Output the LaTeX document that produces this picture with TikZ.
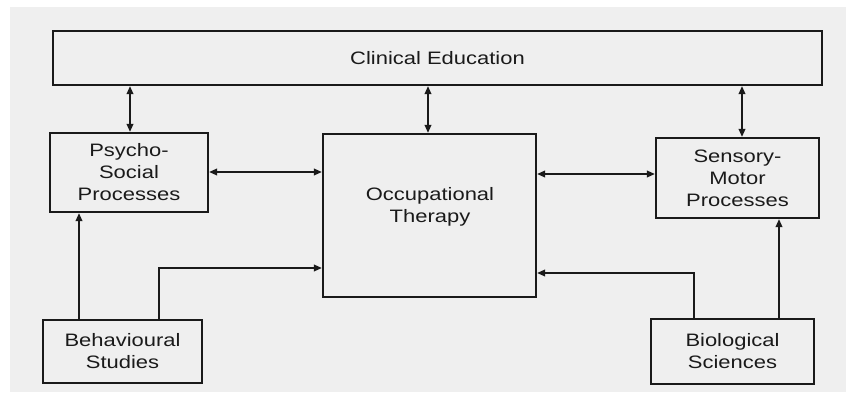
\documentclass[tikz,border=0pt]{standalone}
\usepackage{fontspec}
\setmainfont{Liberation Sans}[FakeStretch=1.22]
\usetikzlibrary{arrows.meta}
\definecolor{ink}{HTML}{1A1A1A}
\definecolor{paper}{HTML}{EFEFEF}
\tikzset{
  box/.style={draw=ink, line width=2.1pt, inner sep=0pt, align=center,
    text=ink, font=\fontsize{18}{22}\selectfont},
  link/.style={draw=ink, line width=1.8pt},
  onearrow/.style={link, -{Triangle[length=8pt,width=6.5pt]}},
  twoarrow/.style={link, {Triangle[length=8pt,width=6.5pt]}-{Triangle[length=8pt,width=6.5pt]}},
}
\begin{document}
\begin{tikzpicture}[x=1pt,y=-1pt]
  \useasboundingbox (0,0) rectangle (846,404);
  % page background
  \fill[paper] (10,7) rectangle (846,392);

  % boxes
  \node[box, minimum width=769pt, minimum height=54pt] (ce) at (437.5,58) {Clinical Education};
  \node[box, minimum width=158pt, minimum height=79pt] (ps) at (129,172.5) {Psycho-\\Social\\Processes};
  \node[box, minimum width=213pt, minimum height=163pt] (ot) at (429.5,215.5) {};
  \node[box, draw=none] (otlabel) at (430,207) {Occupational\\Therapy};
  \node[box, minimum width=163pt, minimum height=80pt] (sm) at (737.5,178) {Sensory-\\Motor\\Processes};
  \node[box, minimum width=159pt, minimum height=63pt] (bs) at (122.5,351.5) {Behavioural\\Studies};
  \node[box, minimum width=163pt, minimum height=65pt] (bi) at (732.5,351.5) {Biological\\Sciences};

  % links with the clinical education strip
  \draw[twoarrow] (ce.south -| 130,0) -- (ps.north -| 130,0);
  \draw[twoarrow] (ce.south -| 428,0) -- (ot.north -| 428,0);
  \draw[twoarrow] (ce.south -| 742,0) -- (sm.north -| 742,0);

  % links with occupational therapy
  \draw[twoarrow] (ps.east |- 0,172) -- (ot.west |- 0,172);
  \draw[twoarrow] (ot.east |- 0,174) -- (sm.west |- 0,174);

  % contributing disciplines
  \draw[onearrow] (bs.north -| 79,0) -- (ps.south -| 79,0);
  \draw[onearrow] (bs.north -| 159,0) |- (ot.west |- 0,268);
  \draw[onearrow] (bi.north -| 694,0) |- (ot.east |- 0,273);
  \draw[onearrow] (bi.north -| 779,0) -- (sm.south -| 779,0);
\end{tikzpicture}
\end{document}
